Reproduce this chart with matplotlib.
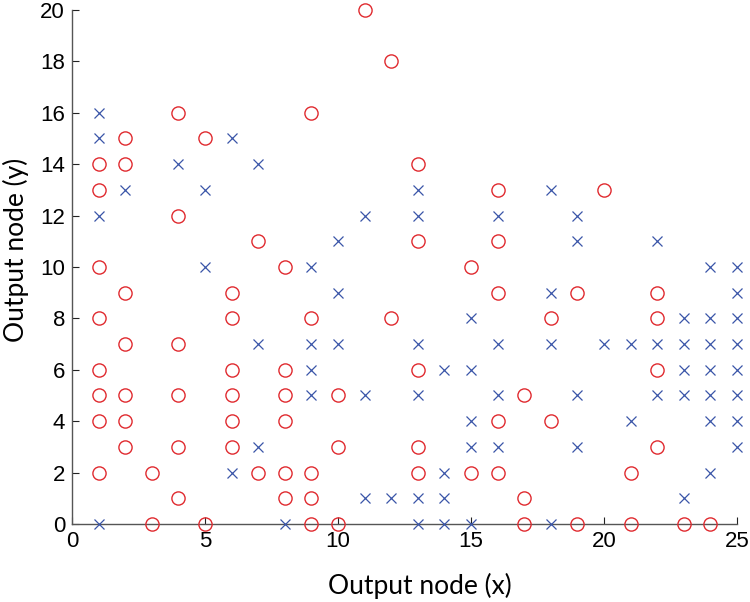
import matplotlib
matplotlib.use("Agg")
import matplotlib.pyplot as plt
import numpy as np

# circle markers (red), output node x -> list of output node y
circle_y = {
    1: [14, 13, 10, 8, 6, 5, 4, 2],
    2: [15, 14, 9, 7, 5, 4, 3],
    3: [2, 0],
    4: [16, 12, 7, 5, 3, 1],
    5: [15, 0],
    6: [9, 8, 6, 5, 4, 3],
    7: [11, 2],
    8: [10, 6, 5, 4, 2, 1],
    9: [16, 8, 2, 1, 0],
    10: [5, 3, 0],
    11: [20],
    12: [18, 8],
    13: [14, 11, 6, 3, 2],
    15: [10, 2],
    16: [13, 11, 9, 4, 2],
    17: [5, 1, 0],
    18: [8, 4],
    19: [9, 0],
    20: [13],
    21: [2, 0],
    22: [9, 8, 6, 3],
    23: [0],
    24: [0],
}

# cross markers (blue)
cross_y = {
    1: [16, 15, 12, 0],
    2: [13],
    4: [14],
    5: [13, 10],
    6: [15, 2],
    7: [14, 7, 3],
    8: [0],
    9: [10, 7, 6, 5],
    10: [11, 9, 7],
    11: [12, 5, 1],
    12: [1],
    13: [13, 12, 7, 5, 1, 0],
    14: [6, 2, 1, 0],
    15: [8, 6, 4, 3, 0],
    16: [12, 7, 5, 3],
    18: [13, 9, 7, 0],
    19: [12, 11, 5, 3],
    20: [7],
    21: [7, 4],
    22: [11, 7, 5],
    23: [8, 7, 6, 5, 1],
    24: [10, 8, 7, 6, 5, 4, 2],
    25: [10, 9, 8, 7, 6, 5, 4, 3],
}

x_ticks = [0, 5, 10, 15, 20, 25]
y_ticks = list(range(0, 21, 2))


def flatten(cols):
    xs, ys = [], []
    for x, vals in cols.items():
        xs += [x] * len(vals)
        ys += vals
    return np.array(xs), np.array(ys)


cx, cy = flatten(circle_y)
kx, ky = flatten(cross_y)

fig = plt.figure(figsize=(7.5, 6.02), dpi=100)
ax = fig.add_axes([0.096, 0.1296, 0.8867, 0.8538])

ax.plot(kx, ky, linestyle="none", marker="x", markersize=6.5,
        markeredgewidth=0.9, color="#3a55a8", clip_on=False, zorder=3)
ax.plot(cx, cy, linestyle="none", marker="o", markersize=9.5,
        markeredgewidth=1.0, markerfacecolor="none", markeredgecolor="#e02a2f",
        clip_on=False, zorder=3)

ax.set_xlim(0, 25)
ax.set_ylim(0, 20)
ax.set_xticks(x_ticks)
ax.set_yticks(y_ticks)

for s in ["top", "right"]:
    ax.spines[s].set_visible(False)
for s in ["left", "bottom"]:
    ax.spines[s].set_color("#555555")
    ax.spines[s].set_linewidth(1.0)

tick_font = ["Liberation Sans Narrow", "Liberation Sans", "DejaVu Sans"]
ax.tick_params(direction="in", length=5, width=0.8, color="#222222",
               labelsize=16, pad=5)
for lab in ax.get_xticklabels() + ax.get_yticklabels():
    lab.set_family(tick_font)

# labels sit a little off-centre in the original
label_font = ["Lato", "DejaVu Sans"]
ax.set_xlabel("Output node (x)", fontsize=19, family=label_font)
ax.set_ylabel("Output node (y)", fontsize=19, family=label_font)
ax.xaxis.set_label_coords(0.523, -0.095)
ax.yaxis.set_label_coords(-0.064, 0.533)

fig.savefig("out.png", dpi=100)
